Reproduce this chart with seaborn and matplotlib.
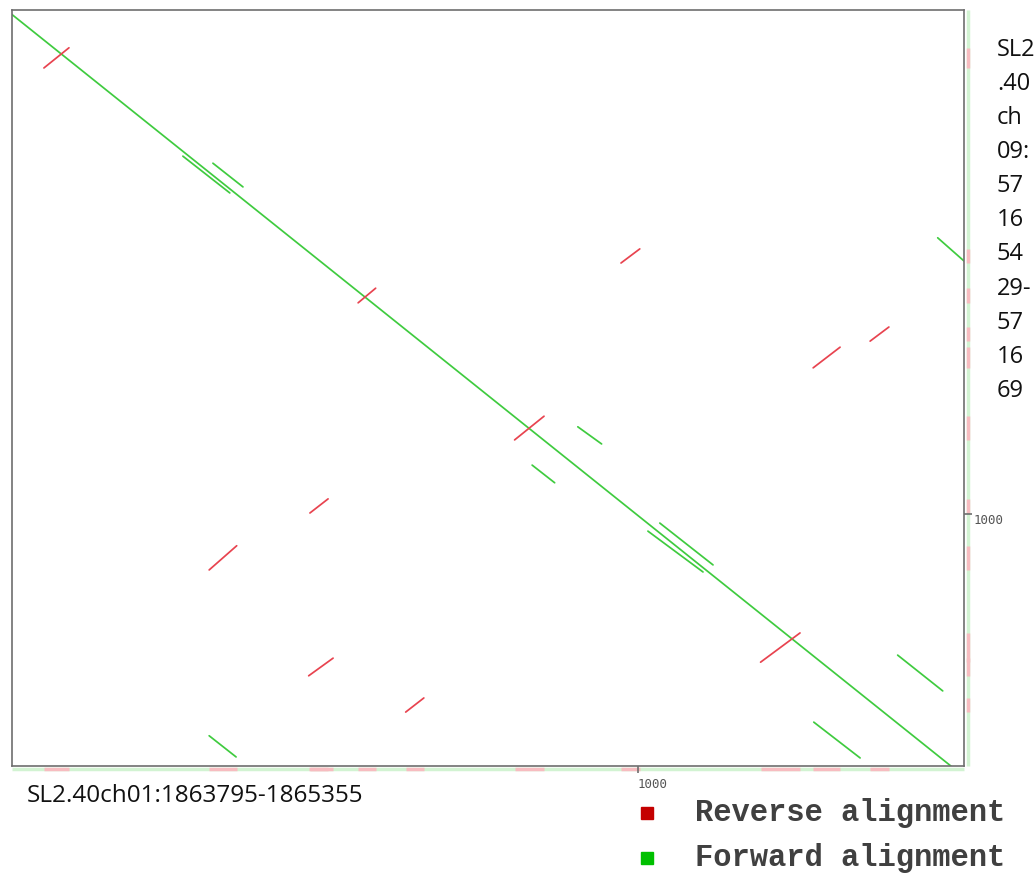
import matplotlib
matplotlib.use("Agg")
import matplotlib.pyplot as plt
from matplotlib.lines import Line2D
import pandas as pd
import seaborn as sns

# Sequence lengths (bp) shown on each axis
x_len = 1521
y_len = 1500

x_label = "SL2.40ch01:1863795-1865355"
y_label_lines = ["SL2", ".40", "ch", "09:", "57", "16", "54", "29-", "57", "16", "69"]
x_ticks = [1000]
y_ticks = [1000]

# Forward (same-strand) alignments: start/end positions in each sequence
fwd_x0 = [0, 273, 321, 904, 831, 1035, 1016, 1415, 1281, 315, 1479]
fwd_y0 = [9, 290, 304, 827, 903, 1018, 1034, 1280, 1413, 1440, 452]
fwd_x1 = [1500, 348, 369, 942, 867, 1120, 1104, 1487, 1355, 358, 1521]
fwd_y1 = [1500, 363, 351, 861, 938, 1101, 1115, 1351, 1484, 1482, 498]

# Reverse-complement alignments
rev_x0 = [51, 553, 803, 973, 1280, 1371, 476, 315, 474, 629, 1196]
rev_y0 = [115, 581, 853, 502, 710, 657, 998, 1111, 1321, 1393, 1294]
rev_x1 = [91, 581, 850, 1003, 1323, 1401, 505, 359, 513, 658, 1259]
rev_y1 = [75, 552, 806, 474, 669, 629, 970, 1063, 1286, 1365, 1236]

legend_labels = ["Reverse alignment", "Forward alignment"]
line_colors = {"reverse": "#e8434f", "forward": "#3fcb3f"}
legend_colors = ["#c40000", "#00c000"]

rows = []
for i in range(len(fwd_x0)):
    rows.append(("f%d" % i, "forward", fwd_x0[i], fwd_y0[i]))
    rows.append(("f%d" % i, "forward", fwd_x1[i], fwd_y1[i]))
for i in range(len(rev_x0)):
    rows.append(("r%d" % i, "reverse", rev_x0[i], rev_y0[i]))
    rows.append(("r%d" % i, "reverse", rev_x1[i], rev_y1[i]))
df = pd.DataFrame(rows, columns=["seg", "strand", "x", "y"])

sns.set_style("white")
plt.rcParams["font.family"] = ["Open Sans", "DejaVu Sans"]

W, H = 1034, 873
fig = plt.figure(figsize=(W / 100, H / 100), dpi=100)
left, right, top, bottom = 12, 964, 10, 766
ax = fig.add_axes([left / W, 1 - bottom / H, (right - left) / W, (bottom - top) / H])

sns.lineplot(data=df, x="x", y="y", hue="strand", units="seg", estimator=None,
             sort=False, palette=line_colors, linewidth=1.25, legend=False, ax=ax)

ax.set_xlim(0, x_len)
ax.set_ylim(y_len, 0)

# Faint projections of the alignments along the outer edges
xt = ax.get_xaxis_transform()
yt = ax.get_yaxis_transform()
edge = dict(lw=2.5, clip_on=False, solid_capstyle="butt", zorder=0.2)
ax.plot([0, x_len], [-0.004, -0.004], transform=xt, color="#d2f3d2", **edge)
ax.plot([1.004, 1.004], [0, y_len], transform=yt, color="#d2f3d2", **edge)
for a, b in zip(rev_x0, rev_x1):
    ax.plot([a, b], [-0.004, -0.004], transform=xt, color="#f7bcc0", **edge)
for a, b in zip(rev_y0, rev_y1):
    ax.plot([1.004, 1.004], [a, b], transform=yt, color="#f7bcc0", **edge)

for s in ax.spines.values():
    s.set_visible(True)
    s.set_color("#6e6e6e")
    s.set_linewidth(1.2)

ax.set_xticks(x_ticks)
ax.set_yticks(y_ticks)
ax.set_xticklabels([str(t) for t in x_ticks])
ax.set_yticklabels([str(t) for t in y_ticks])
ax.tick_params(axis="x", bottom=True, direction="out", length=5, width=1.2,
               color="#6e6e6e", labelsize=9, labelcolor="#555555", pad=4)
ax.tick_params(axis="y", left=False, right=True, labelleft=False, labelright=True,
               direction="out", length=6, width=1.2, color="#6e6e6e",
               labelsize=9, labelcolor="#555555", pad=1)
for lab in ax.get_xticklabels() + ax.get_yticklabels():
    lab.set_family("DejaVu Sans Mono")
for lab in ax.get_xticklabels():
    lab.set_horizontalalignment("left")
for lab in ax.get_yticklabels():
    lab.set_verticalalignment("top")
ax.set_xlabel("")
ax.set_ylabel("")

fig.text(27 / W, 1 - 796 / H, x_label, fontsize=17.5, color="#111111",
         ha="left", va="center")
fig.text(997 / W, 1 - 38 / H, "\n".join(y_label_lines), fontsize=17,
         color="#111111", ha="left", va="top", linespacing=1.56)

# Legend: square swatches with monospace labels
leg_y = [813, 858]
for lab, col, yy in zip(legend_labels, legend_colors, leg_y):
    fig.add_artist(Line2D([647 / W], [1 - yy / H], marker="s", markersize=8,
                          linestyle="none", markerfacecolor=col,
                          markeredgecolor=col, transform=fig.transFigure))
    fig.text(695 / W, 1 - yy / H, lab, family="Liberation Mono", weight="bold",
             fontsize=22, color="#404040", ha="left", va="center")

fig.savefig("out.png", dpi=100)
